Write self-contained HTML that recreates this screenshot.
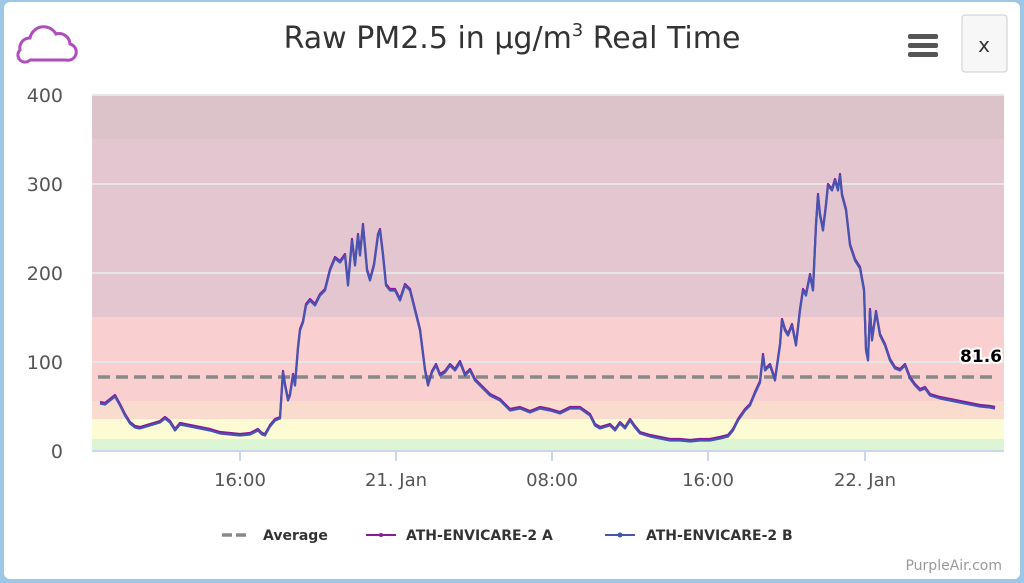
<!DOCTYPE html>
<html><head><meta charset="utf-8"><style>
body{margin:0;width:1024px;height:583px;background:#9cc7e6;overflow:hidden;font-family:"DejaVu Sans","Liberation Sans",sans-serif}
.card{position:absolute;left:4px;top:2px;width:1016px;height:577px;background:#fff;border-radius:6px}
</style></head><body>
<div class="card"></div>
<svg width="1024" height="583" style="position:absolute;left:0;top:0" font-family="DejaVu Sans, Liberation Sans, sans-serif">
<path d="M20 50 a10 10 0 0 1 10-12 a14 14 0 0 1 26-4 a11 11 0 0 1 14 10 a8 8 0 0 1-4 16 h-36 a7 7 0 0 1 -10-10z" fill="none" stroke="#b04dbd" stroke-width="3"/>
<text x="512" y="48" text-anchor="middle" font-size="30" fill="#333">Raw PM2.5 in µg/m<tspan font-size="18" dy="-12">3</tspan><tspan dy="12"> Real Time</tspan></text>
<g fill="#555"><rect x="908" y="34" width="30" height="5" rx="2"/><rect x="908" y="43" width="30" height="5" rx="2"/><rect x="908" y="52" width="30" height="5" rx="2"/></g>
<rect x="962" y="15" width="45" height="57" rx="3" fill="#f7f7f7" stroke="#ccc"/>
<text x="984" y="52" text-anchor="middle" font-size="20" fill="#333">x</text>
<rect x="92" y="95" width="912" height="44" fill="#dcc3c9"/>
<rect x="92" y="139" width="912" height="178" fill="#e4c6d1"/>
<rect x="92" y="317" width="912" height="84" fill="#f9cfcf"/>
<rect x="92" y="401" width="912" height="18" fill="#f9dccd"/>
<rect x="92" y="419" width="912" height="20" fill="#fdfbd3"/>
<rect x="92" y="439" width="912" height="12" fill="#dcf5d4"/>
<g stroke="#e6e6e6" stroke-width="2"><line x1="92" x2="1004" y1="95" y2="95"/><line x1="92" x2="1004" y1="184" y2="184"/><line x1="92" x2="1004" y1="273" y2="273"/><line x1="92" x2="1004" y1="362" y2="362"/></g>
<line x1="92" x2="1004" y1="451" y2="451" stroke="#ccd6eb" stroke-width="2"/>
<g stroke="#ccd6eb" stroke-width="2"><line x1="240" x2="240" y1="451" y2="461"/><line x1="396" x2="396" y1="451" y2="461"/><line x1="552" x2="552" y1="451" y2="461"/><line x1="708" x2="708" y1="451" y2="461"/><line x1="865" x2="865" y1="451" y2="461"/></g>
<g font-size="19" fill="#555" text-anchor="end"><text x="63" y="102">400</text><text x="63" y="191">300</text><text x="63" y="280">200</text><text x="63" y="369">100</text><text x="63" y="458">0</text></g>
<g font-size="18" fill="#555" text-anchor="middle"><text x="240" y="486">16:00</text><text x="396" y="486">21. Jan</text><text x="552" y="486">08:00</text><text x="708" y="486">16:00</text><text x="865" y="486">22. Jan</text></g>
<line x1="98" x2="995" y1="377" y2="377" stroke="#888" stroke-width="3.5" stroke-dasharray="12,6"/>
<text x="1002" y="362" text-anchor="end" font-size="17" font-weight="bold" fill="#000" stroke="#fff" stroke-width="4" paint-order="stroke">81.6</text>
<g fill="none" stroke-width="2.2" stroke-linejoin="round">
<polyline stroke="#8a1a9b" transform="translate(0,-1)" points="100,403 105,404 110,400 115,396 120,405 125,415 130,423 135,427 140,428 150,425 160,422 165,418 170,422 175,430 180,424 190,426 200,428 210,430 220,433 230,434 240,435 250,434 258,430 262,434 265,435 270,426 275,420 280,418 283,372 285,385 288,400 290,395 293,375 295,385 298,348 300,330 303,322 306,305 310,300 315,305 320,295 325,290 330,270 335,258 340,262 345,255 348,285 352,240 355,265 358,235 360,255 363,225 367,270 370,280 374,265 378,235 380,230 383,255 386,285 390,290 395,290 400,300 405,285 410,290 415,310 420,330 425,370 428,385 432,372 436,365 440,375 445,372 450,365 455,370 460,362 465,375 470,370 475,380 480,385 485,390 490,395 500,400 510,410 520,408 530,412 540,408 550,410 560,413 570,408 580,408 590,415 595,425 600,428 610,425 615,430 620,423 625,428 630,420 635,427 640,433 650,436 660,438 670,440 680,440 690,441 700,440 710,440 720,438 728,436 733,430 738,420 745,410 750,405 755,393 760,382 763,355 765,370 770,365 775,380 780,345 782,320 785,330 788,335 792,325 796,345 800,310 803,290 806,295 810,275 813,290 816,225 818,195 820,215 823,230 826,205 828,185 832,190 835,180 838,190 840,175 842,195 846,210 850,245 855,260 860,268 864,290 866,350 868,360 870,310 872,340 876,312 880,335 885,345 890,360 895,368 900,370 905,365 910,378 915,385 920,390 925,388 930,395 940,398 950,400 960,402 970,404 980,406 990,407 995,408"/>
<polyline stroke="#4555b0" transform="translate(0,0.5)" points="100,403 105,404 110,400 115,396 120,405 125,415 130,423 135,427 140,428 150,425 160,422 165,418 170,422 175,430 180,424 190,426 200,428 210,430 220,433 230,434 240,435 250,434 258,430 262,434 265,435 270,426 275,420 280,418 283,372 285,385 288,400 290,395 293,375 295,385 298,348 300,330 303,322 306,305 310,300 315,305 320,295 325,290 330,270 335,258 340,262 345,255 348,285 352,240 355,265 358,235 360,255 363,225 367,270 370,280 374,265 378,235 380,230 383,255 386,285 390,290 395,290 400,300 405,285 410,290 415,310 420,330 425,370 428,385 432,372 436,365 440,375 445,372 450,365 455,370 460,362 465,375 470,370 475,380 480,385 485,390 490,395 500,400 510,410 520,408 530,412 540,408 550,410 560,413 570,408 580,408 590,415 595,425 600,428 610,425 615,430 620,423 625,428 630,420 635,427 640,433 650,436 660,438 670,440 680,440 690,441 700,440 710,440 720,438 728,436 733,430 738,420 745,410 750,405 755,393 760,382 763,355 765,370 770,365 775,380 780,345 782,320 785,330 788,335 792,325 796,345 800,310 803,290 806,295 810,275 813,290 816,225 818,195 820,215 823,230 826,205 828,185 832,190 835,180 838,190 840,175 842,195 846,210 850,245 855,260 860,268 864,290 866,350 868,360 870,310 872,340 876,312 880,335 885,345 890,360 895,368 900,370 905,365 910,378 915,385 920,390 925,388 930,395 940,398 950,400 960,402 970,404 980,406 990,407 995,408"/>
</g>
<line x1="222" x2="250" y1="535" y2="535" stroke="#888" stroke-width="3.5" stroke-dasharray="10,4"/>
<line x1="366" x2="396" y1="535" y2="535" stroke="#8a1a9b" stroke-width="2"/><circle cx="381" cy="535" r="2" fill="#8a1a9b"/>
<line x1="605" x2="635" y1="535" y2="535" stroke="#4555b0" stroke-width="2"/><circle cx="620" cy="535" r="2.5" fill="#4555b0"/>
<g font-size="14" font-weight="bold" fill="#333"><text x="263" y="540">Average</text><text x="406" y="540">ATH-ENVICARE-2 A</text><text x="646" y="540">ATH-ENVICARE-2 B</text></g>
<text x="1002" y="570" text-anchor="end" font-size="14" fill="#999">PurpleAir.com</text>
</svg>
</body></html>
